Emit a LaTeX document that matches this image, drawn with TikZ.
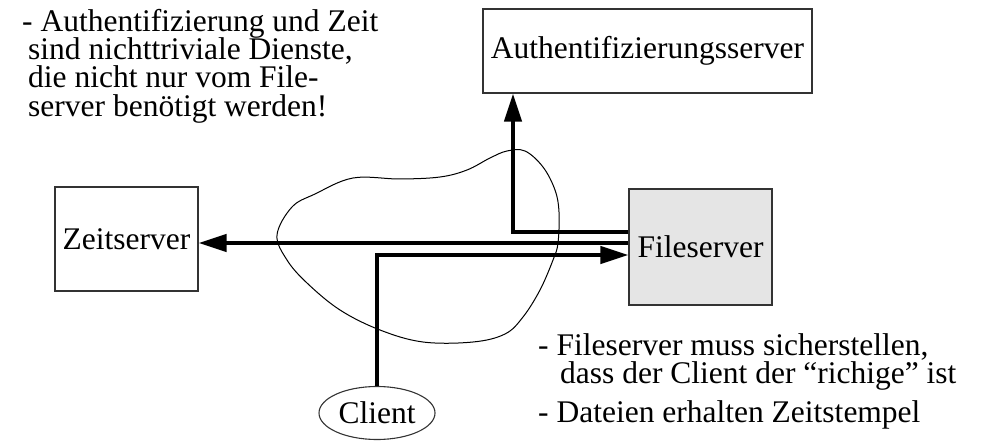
\documentclass[tikz,border=0pt]{standalone}
\usepackage{fontspec}
\setmainfont{Liberation Serif}
\usetikzlibrary{arrows.meta,calc,shapes.geometric}
\begin{document}
\begin{tikzpicture}[x=1pt,y=-1pt,
  box/.style={draw=black!80,line width=1.1pt,rectangle,inner sep=0pt,
    font=\fontsize{31.5}{28.3}\selectfont},
  conn/.style={line width=4pt,-{Triangle[length=28pt,width=17pt]}},
  plainconn/.style={line width=4pt},
  note/.style={anchor=base west,inner sep=0pt,font=\fontsize{31.5}{28.3}\selectfont}]
\useasboundingbox (0,0) rectangle (986,441);
% cloud
\draw[line width=1pt] plot[smooth cycle,tension=0.6] coordinates {
 (507,151) (525,151) (543,167) (555,190) (559,212) (558,243) (553,260)
 (540,290) (523,317) (505,334) (473,342) (423,342) (380,330) (340,310)
 (307,283) (287,260) (277,235) (292,207) (315,194) (353,178) (400,179)
 (440,177) (467,170) (490,158)};
% boxes
\node[box,minimum width=329pt,minimum height=84pt] (auth) at (647.5,51) {Authentifizierungsserver};
\node[box,minimum width=143pt,minimum height=104pt] (zs) at (126.5,239) {Zeitserver};
\node[box,fill=black!10,minimum width=143pt,minimum height=116pt] (fs) at (700.5,247) {Fileserver};
\node[ellipse,draw=black!80,line width=1.1pt,inner sep=0pt,minimum width=116pt,minimum height=53pt,
  font=\fontsize{31.5}{28.3}\selectfont] (cl) at (377,413) {Client};
% connector end points
\coordinate (fsA) at ($(fs.west)+(0,-15)$);
\coordinate (fsZ) at ($(fs.west)+(0,-4)$);
\coordinate (fsC) at ($(fs.west)+(0,8)$);
\coordinate (bendA) at (513,232);
\draw[conn] (fsA) -- (bendA) -- (bendA |- auth.south);
\draw[conn] (fsZ) -- (fsZ -| zs.east);
\draw[conn] (cl.north) -- (cl.north |- fsC) -- (fsC);
% notes
\node[note] (n1) at (22,32) {- Authentifizierung und Zeit};
\node[note] (n2) at (28,60) {sind nichttriviale Dienste,};
\node[note] (n3) at (28,88) {die nicht nur vom File-};
\node[note] (n4) at (28,117) {server benötigt werden!};
\node[note] (r1) at (538,355) {- Fileserver muss sicherstellen,};
\node[note] (r2) at (560,383) {dass der Client der “richige” ist};
\node[note] (r3) at (538,422) {- Dateien erhalten Zeitstempel};
\end{tikzpicture}
\end{document}
